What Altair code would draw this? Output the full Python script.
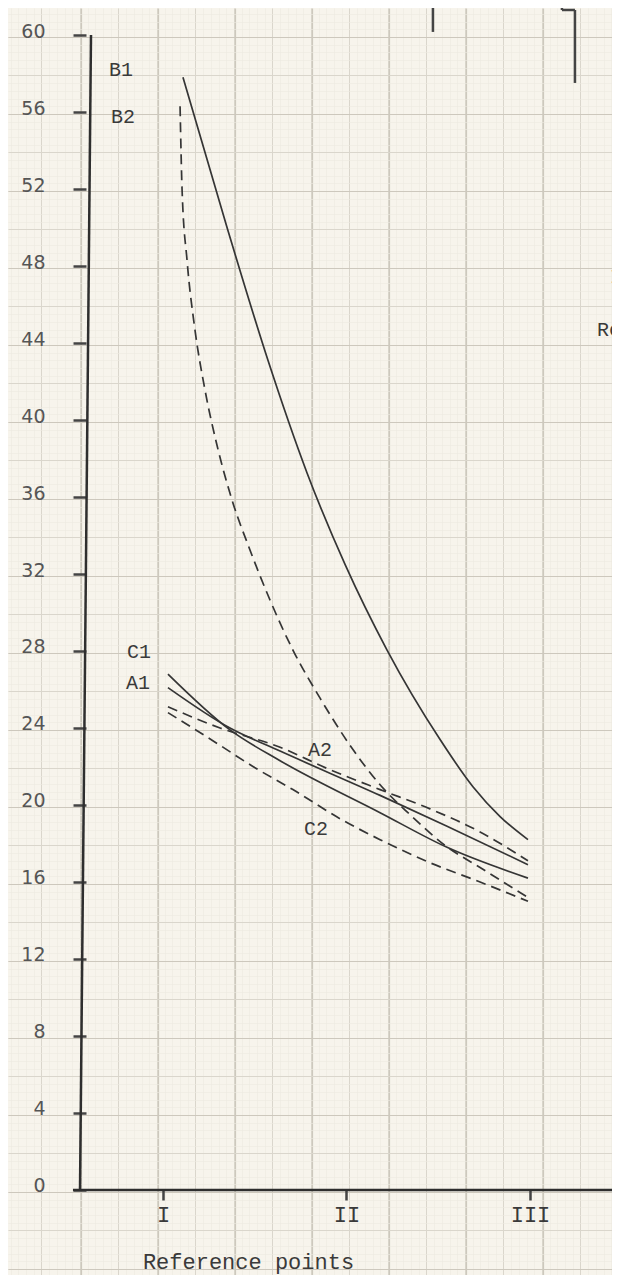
import altair as alt
import pandas as pd
import numpy as np

# ---------------- data ----------------
# x: reference points I=1, II=2, III=3 ; y: value
b1_x = [1.109, 1.349, 1.572, 1.785, 1.992, 2.221, 2.510, 2.689, 2.837, 2.989]
b1_y = [57.8, 50.0, 43.1, 37.25, 32.5, 28.05, 23.4, 20.95, 19.4, 18.2]

b2_x = [1.093, 1.104, 1.131, 1.174, 1.229, 1.294, 1.376, 1.474, 1.583,
        1.708, 1.856, 2.019, 2.183, 2.346, 2.537, 2.728, 2.989]
b2_y = [56.3, 51.95, 48.3, 44.7, 41.55, 38.7, 35.85, 33.25, 30.65,
        28.05, 25.55, 23.1, 21.05, 19.5, 17.9, 16.75, 15.2]

c1_x = [1.027, 1.365, 1.638, 2.183, 2.548, 2.989]
c1_y = [26.8, 23.9, 22.3, 19.6, 17.8, 16.2]

a1_x = [1.027, 1.365, 1.638, 2.183, 2.548, 2.989]
a1_y = [26.1, 24.0, 22.8, 20.5, 18.9, 16.9]

a2_x = [1.027, 1.311, 1.638, 1.894, 2.183, 2.455, 2.728, 2.989]
a2_y = [25.1, 24.0, 23.0, 21.9, 20.8, 19.8, 18.6, 17.1]

c2_x = [1.027, 1.311, 1.490, 1.708, 1.981, 2.183, 2.455, 2.728, 2.989]
c2_y = [24.8, 23.1, 22.0, 20.8, 19.2, 18.2, 17.0, 16.0, 15.0]

# curve labels
label_text = ["B1", "B2", "C1", "A1", "A2", "C2"]
label_x = [0.771, 0.782, 0.869, 0.864, 1.856, 1.834]
label_y = [58.18, 55.74, 27.95, 26.34, 22.86, 18.75]

# axes
x_ticks = [1, 2, 3]
x_tick_labels = ["I", "II", "III"]
y_ticks = list(range(0, 61, 4))
x_title = "Reference points"

# drawn axis lines (slightly skewed on the scan)
axis_x1 = [0.6076, 0.5095]
axis_y1 = [60.0, 0.0]
axis_x2 = [0.5477, 3.4469]
axis_y2 = [0.0, 0.0]

# fragments of other drawings on the page (cut off at the edge)
frag_x1 = [2.471, 3.174, 3.174, 3.245]
frag_y1 = [61.5, 61.5, 61.30, 61.30]
frag_x2 = [2.471, 3.174, 3.245, 3.245]
frag_y2 = [60.16, 61.30, 61.30, 57.51]
frag_text = ["I", "Re"]
frag_tx = [3.436, 3.365]
frag_ty = [47.43, 44.68]

# ---------------- styling / scales ----------------
X_DOMAIN = [0.1553, 3.4469]
Y_DOMAIN = [-4.416, 61.403]
xscale = alt.Scale(domain=X_DOMAIN, nice=False, zero=False)
yscale = alt.Scale(domain=Y_DOMAIN, nice=False, zero=False)
INK = "#353535"
PAPER = "#f7f4ec"

# graph-paper rulings (axis grid values)
gx0, gstep = 0.967, 0.2098
minor_x = [round(float(v), 4) for v in np.arange(gx0 - 5 * gstep, 3.5, gstep / 5)]
mid_x = [round(float(v), 4) for v in np.arange(gx0 - 5 * gstep, 3.5, gstep)]
major_x = [round(float(v), 4) for v in np.arange(1.392 - 6 * gstep, 3.5, 2 * gstep)]
minor_y = [round(float(v), 3) for v in np.arange(-6.1, 62.5, 0.4)]
mid_y = [round(float(v), 3) for v in np.arange(-6.1, 62.5, 2.0)]
major_y = [round(float(v), 3) for v in np.arange(-4.1, 62.5, 4.0)]

dummy = pd.DataFrame({"gx": [1.0], "gy": [10.0]})


def grid_layer(xv, yv, color, width):
    return alt.Chart(dummy).mark_point(opacity=0).encode(
        x=alt.X("gx:Q", scale=xscale,
                axis=alt.Axis(values=xv, grid=True, gridColor=color, gridWidth=width,
                              labels=False, ticks=False, domain=False, title=None,
                              orient="bottom")),
        y=alt.Y("gy:Q", scale=yscale,
                axis=alt.Axis(values=yv, grid=True, gridColor=color, gridWidth=width,
                              labels=False, ticks=False, domain=False, title=None,
                              orient="left")),
    )


g1 = grid_layer(minor_x, minor_y, "#ece9e1", 0.6)
g2 = grid_layer(mid_x, mid_y, "#dad6cc", 1.0)
g3 = grid_layer(major_x, major_y, "#cdc8bd", 1.2)

# ---------------- curves ----------------
rows = []
for name, xs, ys, style in [("B1", b1_x, b1_y, "solid"), ("C1", c1_x, c1_y, "solid"),
                            ("A1", a1_x, a1_y, "solid"), ("B2", b2_x, b2_y, "dashed"),
                            ("A2", a2_x, a2_y, "dashed"), ("C2", c2_x, c2_y, "dashed")]:
    for i, (xv, yv) in enumerate(zip(xs, ys)):
        rows.append({"series": name, "x": xv, "y": yv, "style": style, "order": i})
df = pd.DataFrame(rows)

label_expr = " : ".join(
    f"datum.value == {v} ? '{t}'" for v, t in zip(x_ticks, x_tick_labels)) + " : ''"

solid = alt.Chart(df[df["style"] == "solid"]).mark_line(
    color=INK, strokeWidth=1.7, interpolate="monotone").encode(
    x=alt.X("x:Q", scale=xscale,
            axis=alt.Axis(values=x_ticks, labelExpr=label_expr, orient="bottom", offset=-85,
                          grid=False, domain=False, tickSize=10, tickWidth=2.5,
                          tickColor="#444", labelFont="Liberation Mono", labelFontSize=22,
                          labelColor="#3a3a3a", labelPadding=4,
                          title=x_title, titleFont="Liberation Mono", titleFontSize=22,
                          titleFontWeight="normal", titleColor="#3a3a3a",
                          titleX=240, titleY=78, titleBaseline="alphabetic")),
    y=alt.Y("y:Q", scale=yscale,
            axis=alt.Axis(values=y_ticks, orient="left", offset=-78, grid=False,
                          domain=False, tickSize=13, tickWidth=2.5, tickColor="#444",
                          labelFont="DejaVu Sans", labelFontSize=19, labelColor="#555",
                          labelPadding=28, labelOffset=-4, title=None)),
    detail="series:N",
    order="order:Q",
)

dashed = alt.Chart(df[df["style"] == "dashed"]).mark_line(
    color=INK, strokeWidth=1.7, strokeDash=[10, 6], interpolate="monotone").encode(
    x=alt.X("x:Q", scale=xscale, axis=None),
    y=alt.Y("y:Q", scale=yscale, axis=None),
    detail="series:N",
    order="order:Q",
)

axes_df = pd.DataFrame({"x": axis_x1, "y": axis_y1, "x2": axis_x2, "y2": axis_y2})
axis_lines = alt.Chart(axes_df).mark_rule(color="#2e2e2e", strokeWidth=2.5).encode(
    x=alt.X("x:Q", scale=xscale, axis=None), y=alt.Y("y:Q", scale=yscale, axis=None),
    x2="x2:Q", y2="y2:Q")

frag_df = pd.DataFrame({"x": frag_x1, "y": frag_y1, "x2": frag_x2, "y2": frag_y2})
frags = alt.Chart(frag_df).mark_rule(color="#444", strokeWidth=2.5, clip=True).encode(
    x=alt.X("x:Q", scale=xscale, axis=None), y=alt.Y("y:Q", scale=yscale, axis=None),
    x2="x2:Q", y2="y2:Q")

frag_t_df = pd.DataFrame({"t": frag_text, "x": frag_tx, "y": frag_ty})
frag_texts = alt.Chart(frag_t_df).mark_text(
    font="Liberation Mono", fontSize=20, color="#3a3a3a", align="left",
    baseline="middle", clip=True).encode(
    x=alt.X("x:Q", scale=xscale, axis=None), y=alt.Y("y:Q", scale=yscale, axis=None),
    text="t:N")

lab_df = pd.DataFrame({"t": label_text, "x": label_x, "y": label_y})
labels = alt.Chart(lab_df).mark_text(
    font="Liberation Mono", fontSize=20, color="#3a3a3a", align="center",
    baseline="middle").encode(
    x=alt.X("x:Q", scale=xscale, axis=None), y=alt.Y("y:Q", scale=yscale, axis=None),
    text="t:N")

chart = alt.layer(g1, g2, g3, solid, dashed, axis_lines, frags, frag_texts, labels).resolve_axis(
    x="independent", y="independent"
).properties(
    width=604, height=1267, padding=0,
    autosize=alt.AutoSizeParams(type="none"),
    background=PAPER,
).configure_view(strokeWidth=0)

chart.save("out.html", embed_options={"renderer": "svg", "actions": False})
